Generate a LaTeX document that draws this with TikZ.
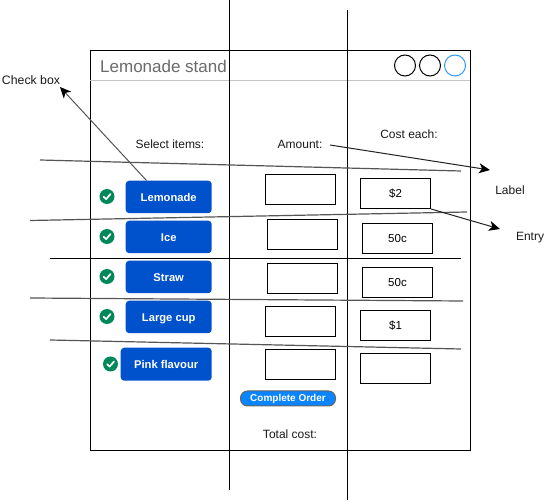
\documentclass[tikz,border=0pt]{standalone}
\usepackage{fontspec}
\setmainfont{Liberation Sans}
\usetikzlibrary{arrows.meta}
\tikzset{
  entrybox/.style={draw=black,line width=1pt,minimum width=70pt,minimum height=29.5pt,inner sep=0pt,anchor=north west,font=\fontsize{11.5}{14}\selectfont},
  itembtn/.style={fill=blubtn,draw=none,rounded corners=3.5pt,minimum height=32.5pt,inner sep=0pt,anchor=north west,text=white,text height=11pt,text depth=2pt,font=\fontsize{11.2}{14}\selectfont\bfseries},
  checkdot/.style={circle,fill=grn,draw=none,minimum size=15pt,inner sep=0pt},
  tick/.style={draw=white,line width=1.7pt,line cap=round,line join=round},
  lbl/.style={inner sep=0pt,font=\fontsize{12}{14}\selectfont,text=txt},
  wirek/.style={draw=black,line width=1pt},
  wireg/.style={draw=gry,line width=1.2pt},
  ptr/.style={draw=ptrc,line width=1pt,-{Stealth[length=11pt,width=10pt,inset=3pt,color=black]}},
  wincircle/.style={circle,draw=black,line width=1pt,minimum size=21pt,inner sep=0pt},
}
\definecolor{blubtn}{HTML}{0052CC}
\definecolor{grn}{HTML}{00875A}
\definecolor{txt}{HTML}{1A1A1A}
\definecolor{gry}{HTML}{555555}
\definecolor{ptrc}{HTML}{222222}
\definecolor{titlec}{HTML}{6B6B6B}
\definecolor{sep}{HTML}{C4C4C4}
\definecolor{pill}{HTML}{0A84FF}
\definecolor{pilledge}{HTML}{666666}
\definecolor{bluec}{HTML}{2F9BFF}
\newcommand{\checkat}[2]{\draw[tick] (#1-3.4,#2+0.2) -- (#1-0.9,#2+2.6) -- (#1+3.6,#2-2.6);}
\begin{document}
\begin{tikzpicture}[x=1pt,y=-1pt]
\useasboundingbox (0.5,0) rectangle (560.5,502);
\fill[white] (0.5,0) rectangle (560.5,502);
% window
\node[draw=black,line width=1pt,minimum width=379.5pt,minimum height=400pt,inner sep=0pt,anchor=north west] (win) at (90.5,50.5) {};
\coordinate (sepL) at (90.5,80.5);
\coordinate (sepR) at (470.5,80.5);
\draw[draw=sep,line width=1pt] (sepL) -- (sepR);
\node[lbl,anchor=west,text=titlec,font=\fontsize{17}{20}\selectfont] (title) at (100.5,66.5) {Lemonade stand};
\node[wincircle] (c1) at (405.5,65.5) {};
\node[wincircle] (c2) at (430.5,65.5) {};
\node[wincircle,draw=bluec] (c3) at (455.5,65.5) {};
% headings
\node[lbl] (h1) at (170.5,144.5) {Select items:};
\node[lbl] (h2) at (300.5,144.5) {Amount:};
\node[lbl] (h3) at (409.5,134.5) {Cost each:};
\node[lbl,font=\fontsize{12.3}{14}\selectfont] (checkbox) at (31.5,80) {Check box};
\node[lbl] (labeltxt) at (510.5,190) {Label};
\node[lbl] (entrytxt) at (530.5,237.5) {Entry};
% grid lines
\coordinate (v1t) at (230,0); \coordinate (v1b) at (230,490);
\coordinate (v2t) at (347.5,10);  \coordinate (v2b) at (347.5,500);
\draw[wirek] (v1t) -- (v1b);
\draw[wirek] (v2t) -- (v2b);
\coordinate (h1a) at (40.5,160);  \coordinate (h1b) at (461.5,171);
\coordinate (h2a) at (30.5,220.5);  \coordinate (h2b) at (467.5,212);
\coordinate (h3a) at (50.5,258.5);  \coordinate (h3b) at (461.5,258.5);
\coordinate (h4a) at (30.5,298);  \coordinate (h4b) at (463.5,301);
\coordinate (h5a) at (50.5,340);  \coordinate (h5b) at (461.5,349);
\draw[wireg] (h1a) -- (h1b);
\draw[wireg] (h2a) -- (h2b);
\draw[wirek] (h3a) -- (h3b);
\draw[wireg] (h4a) -- (h4b);
\draw[wireg] (h5a) -- (h5b);
% buttons
\node[itembtn,minimum width=86pt] (b1) at (126,180.5) {Lemonade};
\node[itembtn,minimum width=86pt] (b2) at (126,220.5) {Ice};
\node[itembtn,minimum width=86pt] (b3) at (126,260.5) {Straw};
\node[itembtn,minimum width=86pt] (b4) at (126,300.5) {Large cup};
\node[itembtn,minimum width=91pt,minimum height=33pt] (b5) at (121,347.5) {Pink flavour};
% checks
\node[checkdot] (k1) at (107.5,196.5) {}; \checkat{107.5}{196.5}
\node[checkdot] (k2) at (107.5,236.5) {}; \checkat{107.5}{236.5}
\node[checkdot] (k3) at (107.5,276.5) {}; \checkat{107.5}{276.5}
\node[checkdot] (k4) at (107.5,316.5) {}; \checkat{107.5}{316.5}
\node[checkdot] (k5) at (111,364) {}; \checkat{111}{364}
% amount boxes
\node[entrybox] (a1) at (265.5,174.5) {};
\node[entrybox] (a2) at (267.5,219.5) {};
\node[entrybox] (a3) at (267.5,263.5) {};
\node[entrybox] (a4) at (265.5,306.5) {};
\node[entrybox] (a5) at (265.5,349.5) {};
% cost boxes
\node[entrybox] (p1) at (360.5,178.5) {\$2};
\node[entrybox] (p2) at (362.5,223.5) {50c};
\node[entrybox] (p3) at (362.5,267.5) {50c};
\node[entrybox] (p4) at (360.5,310.5) {\$1};
\node[entrybox] (p5) at (360.5,353.5) {};
% order pill
\node[draw=pilledge,line width=1pt,fill=pill,rounded corners=7pt,minimum width=95pt,minimum height=15pt,inner sep=0pt,text=white,text height=7pt,text depth=0pt,font=\fontsize{10}{11}\selectfont\bfseries] (order) at (288.5,398.5) {Complete Order};
\node[lbl] (total) at (290.5,434.5) {Total cost:};
% pointers
\coordinate (ptrA) at (147,180.5);
\coordinate (ptrB) at (60.5,87);
\coordinate (ptrC) at (330.5,145);
\coordinate (ptrD) at (490.5,170);
\coordinate (ptrE) at (500.5,229);
\draw[ptr,draw=gry] (ptrA) -- (ptrB);
\draw[ptr] (ptrC) -- (ptrD);
\draw[ptr] (p1.south east) -- (ptrE);
\end{tikzpicture}
\end{document}
